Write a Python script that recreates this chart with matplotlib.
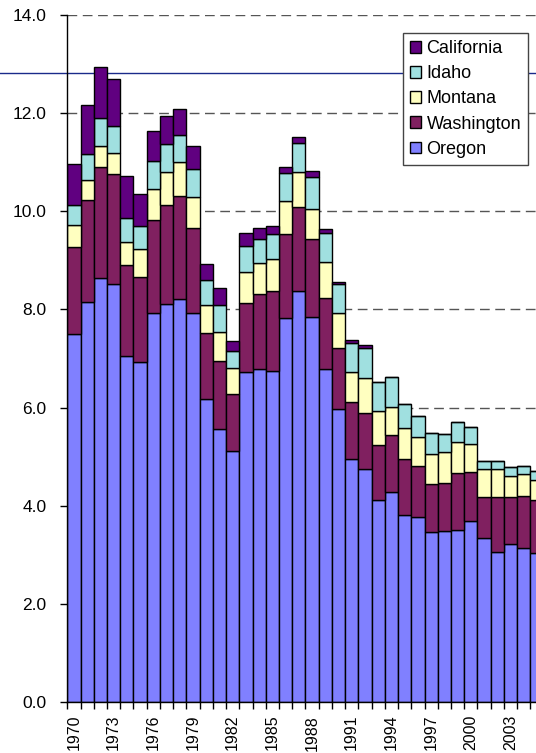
import matplotlib
matplotlib.use("Agg")
import matplotlib.pyplot as plt
import matplotlib.transforms as mtransforms
import numpy as np

years = list(range(1970, 2006))
oregon = [7.49, 8.15, 8.63, 8.52, 7.05, 6.93, 7.92, 8.11, 8.22, 7.93,
          6.18, 5.57, 5.12, 6.72, 6.78, 6.75, 7.82, 8.38, 7.85, 6.78,
          5.97, 4.95, 4.74, 4.11, 4.28, 3.82, 3.77, 3.47, 3.49, 3.51,
          3.69, 3.35, 3.06, 3.22, 3.14, 3.03]
washington = [1.79, 2.07, 2.26, 2.24, 1.85, 1.72, 1.89, 2.01, 2.09, 1.72,
              1.33, 1.38, 1.16, 1.42, 1.53, 1.63, 1.72, 1.71, 1.59, 1.45,
              1.24, 1.16, 1.16, 1.12, 1.16, 1.14, 1.04, 0.98, 0.98, 1.15,
              0.99, 0.84, 1.13, 0.96, 1.06, 1.09]
montana = [0.43, 0.41, 0.44, 0.42, 0.47, 0.57, 0.65, 0.68, 0.69, 0.63,
           0.58, 0.58, 0.53, 0.63, 0.63, 0.65, 0.67, 0.71, 0.60, 0.73,
           0.71, 0.62, 0.70, 0.71, 0.58, 0.62, 0.60, 0.60, 0.62, 0.64,
           0.58, 0.56, 0.56, 0.43, 0.45, 0.41]
idaho = [0.41, 0.53, 0.56, 0.55, 0.49, 0.47, 0.56, 0.57, 0.55, 0.57,
         0.51, 0.55, 0.35, 0.52, 0.49, 0.50, 0.56, 0.58, 0.65, 0.59,
         0.59, 0.59, 0.61, 0.59, 0.61, 0.49, 0.41, 0.44, 0.37, 0.40,
         0.35, 0.17, 0.17, 0.18, 0.17, 0.17]
california = [0.84, 1.00, 1.05, 0.97, 0.86, 0.66, 0.61, 0.57, 0.53, 0.48,
              0.32, 0.35, 0.20, 0.27, 0.22, 0.16, 0.12, 0.12, 0.12, 0.09,
              0.05, 0.06, 0.06, 0.0, 0.0, 0.0, 0.0, 0.0, 0.0, 0.0,
              0.0, 0.0, 0.0, 0.0, 0.0, 0.0]

series = [("Oregon", oregon, "#8080FF"),
          ("Washington", washington, "#802060"),
          ("Montana", montana, "#FFFFC0"),
          ("Idaho", idaho, "#A0E0E0"),
          ("California", california, "#600080")]

plt.rcParams['font.family'] = ['Liberation Sans', 'DejaVu Sans']

W, H = 536, 753
fig = plt.figure(figsize=(W / 100, H / 100), dpi=100)
x0, y0 = 67.3, 702.3
ytop = 14.7
barw = 13.23
n = len(years)
ax = fig.add_axes([x0 / W, 1 - y0 / H, n * barw / W, (y0 - ytop) / H])

x = np.arange(n)
bottom = np.zeros(n)
handles = {}
for name, vals, col in series:
    v = np.array(vals)
    b = ax.bar(x, v, width=1.0, bottom=bottom, color=col, edgecolor='black',
               linewidth=1.0, label=name, zorder=2)
    handles[name] = b
    bottom += v

ax.set_xlim(-0.5, n - 0.5)
ax.set_ylim(0, 14)
yt = np.arange(0, 14.01, 2)
ax.set_yticks(yt)
ax.set_yticklabels([f"{t:.1f}" for t in yt], fontsize=12.5)
ax.tick_params(axis='y', direction='out', length=5, width=1, pad=10)

lab_idx = list(range(0, n, 3))
ax.set_xticks(lab_idx)
ax.set_xticklabels([str(years[i]) for i in lab_idx], rotation=90, fontsize=11.5)
ax.tick_params(axis='x', which='major', length=0, pad=9)
ax.set_xticks(np.arange(-0.5, n, 1.0), minor=True)
ax.tick_params(axis='x', which='minor', direction='out', length=5, width=1)

for sp in ['top', 'right']:
    ax.spines[sp].set_visible(False)
ax.spines['left'].set_linewidth(1.0)
ax.spines['bottom'].set_linewidth(1.0)

ax.set_axisbelow(True)
for t in yt[1:]:
    ax.axhline(t, color='#555555', linewidth=1.0, dashes=(7, 4), zorder=0.5)

trans = mtransforms.blended_transform_factory(fig.transFigure, ax.transData)
ax.plot([0, 1], [12.81, 12.81], transform=trans, color='#1a2a8a',
        linewidth=1.0, clip_on=False, zorder=1.5)

order = ["California", "Idaho", "Montana", "Washington", "Oregon"]
leg = ax.legend([handles[k] for k in order], order, loc='upper left',
                bbox_to_anchor=(403 / W, 1 - 33 / H), bbox_transform=fig.transFigure,
                fontsize=13, frameon=True, fancybox=False, framealpha=1,
                edgecolor='#444444', handlelength=0.6, handleheight=0.6,
                handletextpad=0.3, borderpad=0.4, labelspacing=0.45,
                borderaxespad=0)
leg.get_frame().set_linewidth(1.0)
leg.set_zorder(5)

fig.savefig("out.png", dpi=100)
